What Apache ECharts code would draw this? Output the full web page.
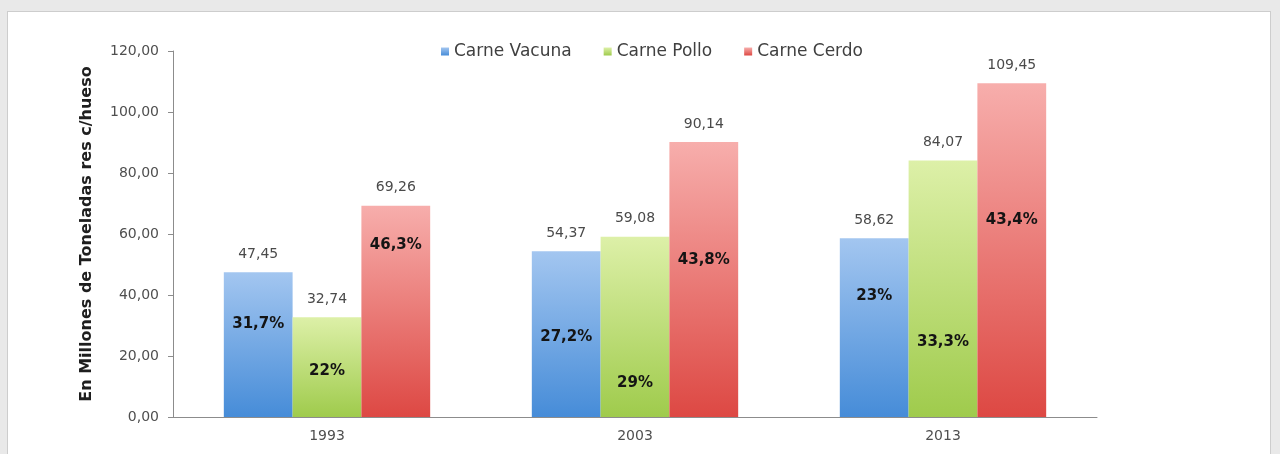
<!DOCTYPE html>
<html>
<head>
<meta charset="utf-8">
<script src="https://cdn.jsdelivr.net/npm/echarts@6/dist/echarts.min.js"></script>
<style>
	html, body { margin: 0; padding: 0; background: #e9e9e9; }
	#frame { position: absolute; left: 7px; top: 11px; width: 1262px; height: 450px; background: #fff; border: 1px solid #cdcdcd; }
	#chart { position: absolute; left: 0; top: 0; width: 1280px; height: 454px; }
</style>
</head>
<body>
<div id="frame"></div>
<div id="chart"></div>
<script>
	// datos
	const years = ['1993', '2003', '2013'];
	const vacuna = [47.45, 54.37, 58.62];
	const pollo = [32.74, 59.08, 84.07];
	const cerdo = [69.26, 90.14, 109.45];
	const vacunaPct = ['31,7%', '27,2%', '23%'];
	const polloPct = ['22%', '29%', '33,3%'];
	const cerdoPct = ['46,3%', '43,8%', '43,4%'];
	// altura (en unidades del eje) donde va cada porcentaje
	const vacunaPctAt = [30.8, 26.6, 40.0];
	const polloPctAt = [15.4, 11.5, 24.9];
	const cerdoPctAt = [57.0, 51.8, 65.2];

	const font = 'DejaVu Sans';

	function grad(top, bottom) {
		return new echarts.graphic.LinearGradient(0, 0, 0, 1, [
			{ offset: 0, color: top },
			{ offset: 1, color: bottom }
		]);
	}

	function coma(v) {
		return v.toFixed(2).replace('.', ',');
	}

	function barSerie(name, data, top, bottom) {
		return {
			name: name,
			type: 'bar',
			barGap: 0,
			barCategoryGap: '33%',
			data: data,
			itemStyle: { color: grad(top, bottom) },
			label: {
				show: true,
				position: 'top',
				distance: 11,
				fontFamily: font,
				fontSize: 14,
				color: '#4a4a4a',
				formatter: p => coma(p.value)
			}
		};
	}

	function pctSerie(at, texts) {
		return {
			type: 'bar',
			xAxisIndex: 1,
			barGap: 0,
			barCategoryGap: '33%',
			silent: true,
			data: at,
			itemStyle: { color: 'rgba(0,0,0,0)' },
			label: {
				show: true,
				position: 'top',
				distance: 0,
				offset: [0, 9],
				fontFamily: font,
				fontWeight: 'bold',
				fontSize: 15,
				color: '#141414',
				formatter: p => texts[p.dataIndex]
			}
		};
	}

	const chart = echarts.init(document.getElementById('chart'));
	chart.setOption({
		animation: false,
		legend: {
			left: 436,
			top: 38,
			icon: 'rect',
			itemWidth: 8,
			itemHeight: 8,
			itemGap: 32,
			textStyle: { fontFamily: font, fontSize: 17, color: '#404040' },
			data: ['Carne Vacuna', 'Carne Pollo', 'Carne Cerdo']
		},
		grid: { left: 173, right: 183, top: 51, bottom: 37 },
		xAxis: [{
			type: 'category',
			data: years,
			axisLine: { lineStyle: { color: '#8c8c8c' } },
			axisTick: { length: 5, lineStyle: { color: '#8c8c8c' } },
			axisLabel: { margin: 12, fontFamily: font, fontSize: 14, color: '#4f4f4f' }
		}, {
			type: 'category',
			data: years,
			show: false
		}],
		yAxis: {
			type: 'value',
			min: 0,
			max: 120,
			interval: 20,
			name: 'En Millones de Toneladas res c/hueso',
			nameLocation: 'middle',
			nameRotate: 90,
			nameGap: 78,
			nameTextStyle: { fontFamily: font, fontWeight: 'bold', fontSize: 16, color: '#1e1e1e' },
			axisLine: { show: true, lineStyle: { color: '#8c8c8c' } },
			axisTick: { show: true, length: 5, lineStyle: { color: '#8c8c8c' } },
			splitLine: { show: false },
			axisLabel: { margin: 14, fontFamily: font, fontSize: 14, color: '#4f4f4f', formatter: v => coma(v) }
		},
		series: [
			barSerie('Carne Vacuna', vacuna, '#a3c6f0', '#468cd8'),
			barSerie('Carne Pollo', pollo, '#ddf0a8', '#9fcb4c'),
			barSerie('Carne Cerdo', cerdo, '#f7aeac', '#dd4843'),
			pctSerie(vacunaPctAt, vacunaPct),
			pctSerie(polloPctAt, polloPct),
			pctSerie(cerdoPctAt, cerdoPct)
		]
	});
</script>
</body>
</html>
